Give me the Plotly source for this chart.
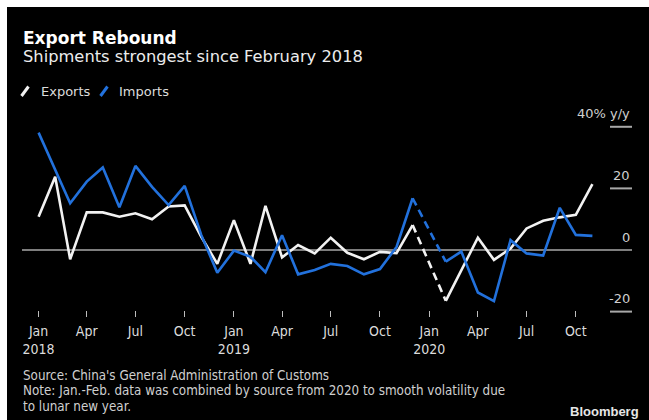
import pandas as pd
import plotly.graph_objects as go

# Monthly year-over-year change in China's trade, Jan 2018 - Nov 2020 (%)
months = pd.date_range("2018-01-01", periods=35, freq="MS")
exports = [10.8, 23.8, -3.0, 12.2, 12.2, 10.8, 11.9, 10.0, 14.1, 14.5, 4.3, -4.5,
           9.7, -4.5, 14.3, -2.4, 1.6, -1.1, 4.0, -0.9, -3.0, -0.6, -1.0, 8.1,
           None, -16.5, -6.6, 4.0, -3.2, 0.5, 7.0, 9.5, 10.6, 11.4, 21.4]
imports = [38.1, 26.0, 15.2, 22.2, 26.8, 13.9, 27.3, 20.5, 14.6, 20.8, 4.9, -7.4,
           -0.2, -2.2, -7.2, 4.8, -7.9, -6.5, -4.5, -5.2, -7.9, -6.2, 1.0, 16.8,
           None, -3.8, -0.5, -13.8, -16.6, 3.2, -1.1, -1.8, 13.7, 4.9, 4.6]

# Jan.-Feb. 2020 combined: bridge Dec 2019 -> Feb 2020 with a dashed segment
bridge_idx = [23, 25]

tick_dates = pd.date_range("2018-01-01", "2020-10-01", freq="3MS")
tick_text = ["Jan<br>2018", "Apr", "Jul", "Oct",
             "Jan<br>2019", "Apr", "Jul", "Oct",
             "Jan<br>2020", "Apr", "Jul", "Oct"]

y_ticks = [40, 20, 0, -20]
y_tick_text = ["40% y/y", "20", "0", "-20"]

WHITE = "#f2f2f2"
BLUE = "#2271dc"

W, H = 649, 420
ML, MR, MT, MB = 22, 17, 110, 103
PW, PH = W - ML - MR, H - MT - MB


def px(x):
    return (x - ML) / PW


def py(y):
    return (H - MB - y) / PH


fig = go.Figure()
for vals, color in [(exports, WHITE), (imports, BLUE)]:
    fig.add_trace(go.Scatter(x=months, y=vals, mode="lines",
                             line=dict(color=color, width=2.6),
                             connectgaps=False, hoverinfo="skip"))
    fig.add_trace(go.Scatter(x=[months[i] for i in bridge_idx],
                             y=[vals[i] for i in bridge_idx], mode="lines",
                             line=dict(color=color, width=2.6, dash="8px,5px"),
                             hoverinfo="skip"))

shapes = [
    # zero line across the plot
    dict(type="line", xref="paper", yref="y", x0=0, x1=1, y0=0, y1=0,
         line=dict(color="#a8a8a8", width=1.5), layer="below"),
    # white frame on top and left edges
    dict(type="rect", xref="paper", yref="paper", x0=px(0), x1=px(W), y0=py(7), y1=py(0),
         fillcolor="white", line=dict(width=0)),
    dict(type="rect", xref="paper", yref="paper", x0=px(0), x1=px(7), y0=py(H), y1=py(0),
         fillcolor="white", line=dict(width=0)),
    # legend swatches
    dict(type="line", xref="paper", yref="paper", x0=px(21.5), x1=px(28.5), y0=py(96), y1=py(86.5),
         line=dict(color=WHITE, width=3)),
    dict(type="line", xref="paper", yref="paper", x0=px(100.5), x1=px(107.5), y0=py(96), y1=py(86.5),
         line=dict(color=BLUE, width=3)),
]
for v in y_ticks:
    if v != 0:
        shapes.append(dict(type="line", xref="paper", yref="y", x0=px(610), x1=1, y0=v, y1=v,
                           line=dict(color="#a8a8a8", width=2)))

NOTE_FONT = dict(family="DejaVu Sans Condensed", size=13.3, color="#cfcfcf")
annotations = [
    dict(text="<b>Export Rebound</b>", x=px(21), y=py(38), xanchor="left", yanchor="middle",
         font=dict(family="DejaVu Sans", size=17, color="white")),
    dict(text="Shipments strongest since February 2018", x=px(21), y=py(57),
         xanchor="left", yanchor="middle",
         font=dict(family="DejaVu Sans", size=16.3, color="#ececec")),
    dict(text="Exports", x=px(39), y=py(91), xanchor="left", yanchor="middle",
         font=dict(family="DejaVu Sans", size=13, color="#dcdcdc")),
    dict(text="Imports", x=px(117), y=py(91), xanchor="left", yanchor="middle",
         font=dict(family="DejaVu Sans", size=13, color="#dcdcdc")),
    dict(text="Source: China's General Administration of Customs", x=px(21), y=py(375),
         xanchor="left", yanchor="middle", font=NOTE_FONT),
    dict(text="Note: Jan.-Feb. data was combined by source from 2020 to smooth volatility due",
         x=px(21), y=py(390.5), xanchor="left", yanchor="middle", font=NOTE_FONT),
    dict(text="to lunar new year.", x=px(21), y=py(406), xanchor="left", yanchor="middle",
         font=NOTE_FONT),
    dict(text="<b>Bloomberg</b>", x=px(641), y=py(411), xanchor="right", yanchor="middle",
         font=dict(family="Liberation Sans", size=13, color="#e6e6e6")),
]
for v, t in zip(y_ticks, y_tick_text):
    annotations.append(dict(text=t, xref="paper", yref="y", x=1, y=v, xanchor="right",
                            yanchor="middle", yshift=13,
                            font=dict(family="DejaVu Sans", size=13, color="#cfcfcf")))
for a in annotations:
    a.setdefault("xref", "paper")
    a.setdefault("yref", "paper")
    a["showarrow"] = False

fig.update_layout(
    width=W, height=H, autosize=False,
    margin=dict(l=ML, r=MR, t=MT, b=MB, pad=0),
    paper_bgcolor="black", plot_bgcolor="black",
    showlegend=False,
    shapes=shapes, annotations=annotations,
    xaxis=dict(type="date", range=["2017-12-01", "2021-01-14"],
               tickvals=tick_dates, ticktext=tick_text,
               ticks="inside", ticklen=6, tickwidth=1, tickcolor="#bdbdbd",
               ticklabelstandoff=4,
               showline=False, showgrid=False, zeroline=False,
               tickfont=dict(family="DejaVu Sans Condensed", size=14, color="#dcdcdc")),
    yaxis=dict(range=[-21.75, 45.45], visible=False, showgrid=False, zeroline=False),
)

fig.write_html("out.html")
